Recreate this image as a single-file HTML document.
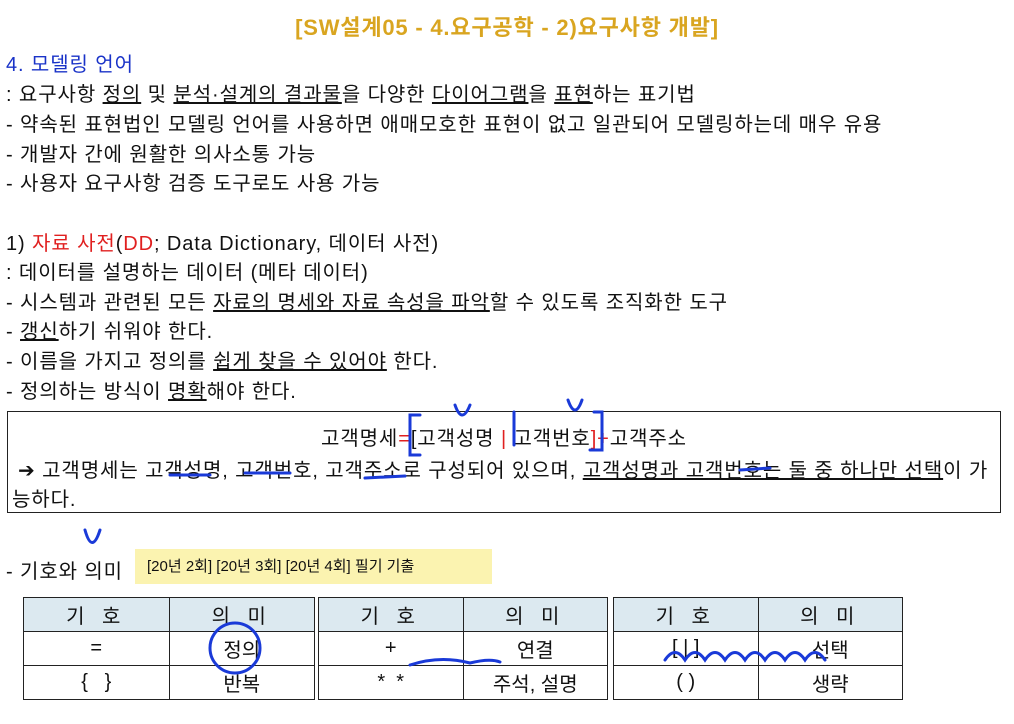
<!DOCTYPE html>
<html><head><meta charset="utf-8"><style>
body{margin:0;width:1014px;height:724px;background:#fff;overflow:hidden;position:relative;font-family:"Liberation Sans","Noto Sans CJK KR","NanumGothic",sans-serif;color:#111}
.t{position:absolute;left:6px;font-size:20px;letter-spacing:0.9px;white-space:nowrap;line-height:24px}
u{text-decoration:underline}
.red{color:#e02020}
table{position:absolute;top:597px;border-collapse:collapse;font-size:20px;table-layout:fixed}
td,th{border:1.5px solid #222;text-align:center;font-weight:normal;height:33px;padding:0;width:50%}
th{background:#dce9f0;letter-spacing:6px}
</style></head><body>
<div style="position:absolute;top:10px;left:0;width:1014px;text-align:center;font-size:22px;letter-spacing:0.8px;font-weight:bold;color:#d9a520">[SW설계05 - 4.요구공학 - 2)요구사항 개발]</div>
<div class="t" style="top:53px;color:#1a33c8">4. 모델링 언어</div>
<div class="t" style="top:83px">: 요구사항 <u>정의</u> 및 <u>분석·설계의 결과물</u>을 다양한 <u>다이어그램</u>을 <u>표현</u>하는 표기법</div>
<div class="t" style="top:113px">- 약속된 표현법인 모델링 언어를 사용하면 애매모호한 표현이 없고 일관되어 모델링하는데 매우 유용</div>
<div class="t" style="top:143px">- 개발자 간에 원활한 의사소통 가능</div>
<div class="t" style="top:172px">- 사용자 요구사항 검증 도구로도 사용 가능</div>
<div class="t" style="top:232px">1) <span class="red">자료 사전</span>(<span class="red">DD</span>; Data Dictionary, 데이터 사전)</div>
<div class="t" style="top:261px">: 데이터를 설명하는 데이터 (메타 데이터)</div>
<div class="t" style="top:291px">- 시스템과 관련된 모든 <u>자료의 명세와 자료 속성을 파악</u>할 수 있도록 조직화한 도구</div>
<div class="t" style="top:320px">- <u>갱신</u>하기 쉬워야 한다.</div>
<div class="t" style="top:350px">- 이름을 가지고 정의를 <u>쉽게 찾을 수 있어야</u> 한다.</div>
<div class="t" style="top:380px">- 정의하는 방식이 <u>명확</u>해야 한다.</div>
<div style="position:absolute;left:7px;top:411px;width:992px;height:100px;border:1.5px solid #222;font-size:20px;letter-spacing:0.9px">
<div style="position:absolute;top:10px;left:0;width:100%;text-align:center">고객명세<span class="red">=</span>[고객성명 <span class="red">|</span> 고객번호<span class="red">]+</span>고객주소</div>
<div style="position:absolute;top:42px;left:10px;white-space:nowrap">➔ 고객명세는 고객성명, 고객번호, 고객주소로 구성되어 있으며, <u>고객성명과 고객번호는 둘 중 하나만 선택</u>이 가</div>
<div style="position:absolute;top:71px;left:4px">능하다.</div>
</div>
<div class="t" style="top:560px">- 기호와 의미</div>
<div style="position:absolute;left:135px;top:549px;width:357px;height:35px;background:#fbf3b0;font-size:15px;line-height:35px;padding-left:12px;box-sizing:border-box">[20년 2회] [20년 3회] [20년 4회] 필기 기출</div>
<table style="left:23px;width:292px"><tr><th>기 호</th><th>의 미</th></tr><tr><td>=</td><td>정의</td></tr><tr><td>{ &nbsp; }</td><td>반복</td></tr></table>
<table style="left:318px;width:290px"><tr><th>기 호</th><th>의 미</th></tr><tr><td>+</td><td>연결</td></tr><tr><td>* &nbsp;*</td><td>주석, 설명</td></tr></table>
<table style="left:613px;width:290px"><tr><th>기 호</th><th>의 미</th></tr><tr><td>[ | ]</td><td>선택</td></tr><tr><td>( )</td><td>생략</td></tr></table>
<svg width="1014" height="724" style="position:absolute;left:0;top:0" fill="none" stroke="#1a3ad8" stroke-width="3" stroke-linecap="round">
<path d="M420 415 L410 415 L410 455 L420 455"/><path d="M594 412 L602 412 L602 450 L590 450"/><path d="M514 412 L514 445"/>
<path d="M455 405 Q462 425 470 405"/><path d="M568 400 Q575 420 582 400"/>
<path d="M85 530 Q92 555 100 530"/><ellipse cx="235" cy="648" rx="25" ry="25"/>
<path d="M410 665 Q440 655 470 663 Q490 658 500 662"/><path d="M665 660 q10 -15 20 0 q10 -15 20 0 q10 -15 20 0 q10 -15 20 0 q10 -15 20 0 q10 -15 20 0 q10 -15 20 0 q10 -15 20 0"/>
<path d="M170 475 L210 475"/><path d="M245 473 L290 473"/><path d="M365 478 L405 476"/><path d="M740 470 L770 468"/>
</svg>
</body></html>
